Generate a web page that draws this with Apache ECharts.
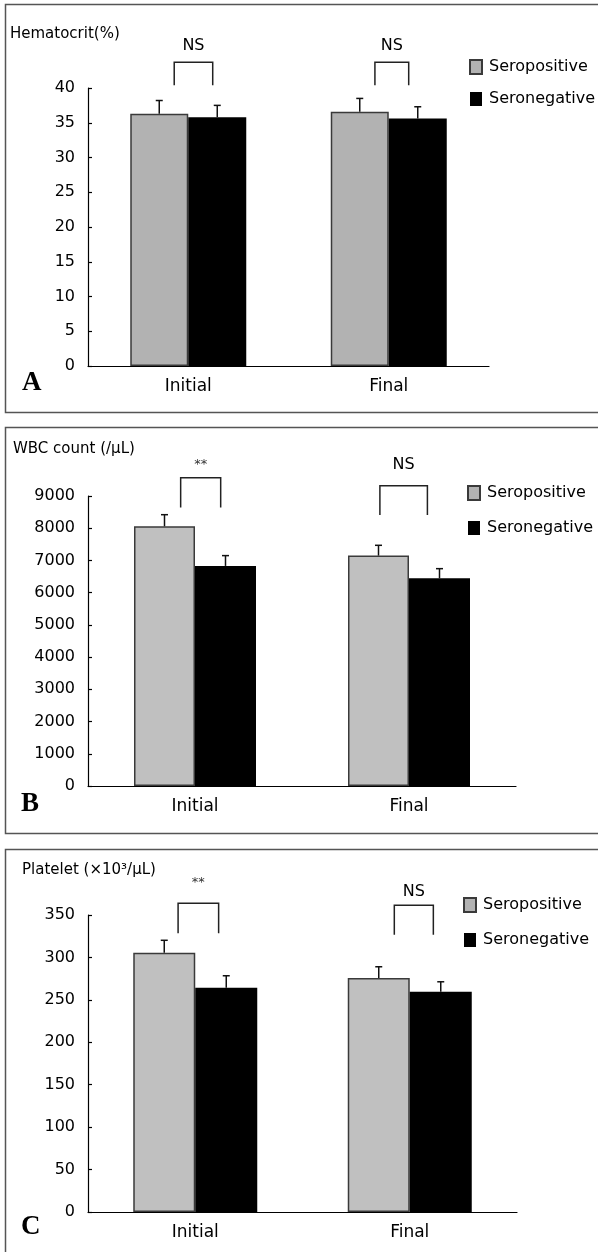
<!DOCTYPE html>
<html><head><meta charset="utf-8">
<script src="https://cdn.jsdelivr.net/npm/echarts@6/dist/echarts.min.js"></script>
<style>html,body{margin:0;padding:0;background:#fff}#c{width:598px;height:1252px}</style>
</head><body><div id="c"></div><script>
// ---------- data ----------
const categories = ['Initial', 'Final'];
const groupNames = ['Seropositive', 'Seronegative'];

// Panel A: Hematocrit (%)
const hctTitle = 'Hematocrit(%)';
const hctAxis = [0, 40, 5];              // min, max, interval
const hctPos = [36.3, 36.6];
const hctPosErr = [1.9, 1.9];
const hctNeg = [35.8, 35.6];
const hctNegErr = [1.7, 1.7];
const hctSig = ['NS', 'NS'];
const hctBracketTop = [43.7, 43.7];
const hctBracketBottom = [40.4, 40.4];
const hctSigAt = [46.0, 46.0];

// Panel B: WBC count (/uL)
const wbcTitle = 'WBC count (/\u03BCL)';
const wbcAxis = [0, 9000, 1000];
const wbcPos = [8060, 7150];
const wbcPosErr = [360, 320];
const wbcNeg = [6830, 6445];
const wbcNegErr = [320, 300];
const wbcSig = ['**', 'NS'];
const wbcBracketTop = [9570, 9320];
const wbcBracketBottom = [8640, 8410];
const wbcSigAt = [9960, 9960];

// Panel C: Platelet (x10^3/uL)
const pltTitle = 'Platelet (\u00D710\u00B3/\u03BCL)';
const pltAxis = [0, 350, 50];
const pltPos = [305.5, 275.7];
const pltPosErr = [14.7, 13.3];
const pltNeg = [264.2, 259.5];
const pltNegErr = [14.2, 11.8];
const pltSig = ['**', 'NS'];
const pltBracketTop = [363.8, 361.4];
const pltBracketBottom = [328.4, 326.8];
const pltSigAt = [388.1, 377.5];

// ---------- layout / style ----------
const FONT = 'DejaVu Sans';
const panels = [
  { key: 'A', title: hctTitle, axis: hctAxis, pos: hctPos, posErr: hctPosErr, neg: hctNeg, negErr: hctNegErr,
    sig: hctSig, bTop: hctBracketTop, bBot: hctBracketBottom, sigAt: hctSigAt,
    grid: { left: 88, top: 88, width: 401, height: 278 }, barWidth: 58, gray: '#b2b2b2',
    span: [[-0.070, 0.122], [-0.069, 0.0995]],
    legend: { left: 469, top: 59, gap: 16 }, titlePos: [10, 34], letterPos: [22, 397],
    frame: { y: 4.5, h: 408 } },
  { key: 'B', title: wbcTitle, axis: wbcAxis, pos: wbcPos, posErr: wbcPosErr, neg: wbcNeg, negErr: wbcNegErr,
    sig: wbcSig, bTop: wbcBracketTop, bBot: wbcBracketBottom, sigAt: wbcSigAt,
    grid: { left: 88, top: 496, width: 428, height: 290 }, barWidth: 61, gray: '#c0c0c0',
    span: [[-0.067, 0.120], [-0.136, 0.086]],
    legend: { left: 467, top: 485, gap: 19 }, titlePos: [13, 449], letterPos: [21, 818],
    frame: { y: 427.5, h: 406 } },
  { key: 'C', title: pltTitle, axis: pltAxis, pos: pltPos, posErr: pltPosErr, neg: pltNeg, negErr: pltNegErr,
    sig: pltSig, bTop: pltBracketTop, bBot: pltBracketBottom, sigAt: pltSigAt,
    grid: { left: 88, top: 915, width: 429, height: 297 }, barWidth: 62, gray: '#c0c0c0',
    span: [[-0.080, 0.109], [-0.072, 0.110]],
    legend: { left: 463, top: 897, gap: 19 }, titlePos: [22, 870], letterPos: [21, 1241],
    frame: { y: 849.5, h: 420 } }
];

const grids = [], xAxes = [], yAxes = [], series = [], legends = [], graphics = [];

function errorSeries(gi, vals, errs, side, bw) {
  return {
    type: 'custom', xAxisIndex: gi, yAxisIndex: gi, z: 5, silent: true, clip: false,
    data: vals.map((v, i) => [i, v, v + errs[i]]),
    renderItem(params, api) {
      const c0 = api.coord([api.value(0), api.value(1)]);
      const c1 = api.coord([api.value(0), api.value(2)]);
      const x = c0[0] + side * bw / 2;
      const st = { stroke: '#111', lineWidth: 1.5 };
      return { type: 'group', children: [
        { type: 'line', shape: { x1: x, y1: c0[1], x2: x, y2: c1[1] }, style: st },
        { type: 'line', shape: { x1: x - 3.5, y1: c1[1], x2: x + 3.5, y2: c1[1] }, style: st }
      ] };
    }
  };
}

function bracketSeries(gi, p) {
  return {
    type: 'custom', xAxisIndex: gi, yAxisIndex: gi, z: 5, silent: true, clip: false,
    data: p.bTop.map((t, i) => [i, t, p.bBot[i], p.sigAt[i]]),
    renderItem(params, api) {
      const i = api.value(0);
      const top = api.coord([i, api.value(1)]);
      const bot = api.coord([i, api.value(2)]);
      const lab = api.coord([i, api.value(3)]);
      const band = api.size([1, 0])[0];
      const xl = top[0] + p.span[i][0] * band, xr = top[0] + p.span[i][1] * band;
      const txt = p.sig[i];
      const star = txt === '**';
      return { type: 'group', children: [
        { type: 'polyline', shape: { points: [[xl, bot[1]], [xl, top[1]], [xr, top[1]], [xr, bot[1]]] },
          style: { stroke: '#222', lineWidth: 1.5, fill: null } },
        { type: 'text', x: (xl + xr) / 2, y: lab[1],
          style: { text: txt, fill: star ? '#333' : '#000', font: (star ? '13px ' : '16px ') + FONT,
                   align: 'center', verticalAlign: 'middle' } }
      ] };
    }
  };
}

panels.forEach((p, gi) => {
  grids.push(Object.assign({ containLabel: false }, p.grid));
  xAxes.push({
    type: 'category', gridIndex: gi, data: categories, boundaryGap: true,
    axisLine: { lineStyle: { color: '#000', width: 1.2 } },
    axisTick: { inside: true, length: 7, lineStyle: { color: '#000', width: 1.2 } },
    axisLabel: { color: '#000', fontFamily: FONT, fontSize: 17, margin: 12 },
    splitLine: { show: false }
  });
  yAxes.push({
    type: 'value', gridIndex: gi, min: p.axis[0], max: p.axis[1], interval: p.axis[2],
    axisLine: { show: true, lineStyle: { color: '#000', width: 1.2 } },
    axisTick: { show: true, inside: true, length: 4, lineStyle: { color: '#000', width: 1.2 } },
    axisLabel: { color: '#000', fontFamily: FONT, fontSize: 16, margin: 13, formatter: v => String(v) },
    splitLine: { show: false }
  });
  series.push({
    name: groupNames[0], type: 'bar', xAxisIndex: gi, yAxisIndex: gi, data: p.pos,
    barWidth: p.barWidth, barGap: '0%', silent: true,
    itemStyle: { color: p.gray, borderColor: '#3a3a3a', borderWidth: 1.5 }
  });
  series.push({
    name: groupNames[1], type: 'bar', xAxisIndex: gi, yAxisIndex: gi, data: p.neg,
    barWidth: p.barWidth, barGap: '0%', silent: true,
    itemStyle: { color: '#000', borderColor: '#000', borderWidth: 0 }
  });
  series.push(errorSeries(gi, p.pos, p.posErr, -1, p.barWidth));
  series.push(errorSeries(gi, p.neg, p.negErr, 1, p.barWidth));
  series.push(bracketSeries(gi, p));
  legends.push({
    data: groupNames, orient: 'vertical', left: p.legend.left, top: p.legend.top, padding: 0,
    itemWidth: 12, itemHeight: 14, itemGap: p.legend.gap, icon: 'rect', selectedMode: false,
    textStyle: { color: '#000', fontFamily: FONT, fontSize: 16, padding: [0, 0, 0, 2] }
  });
  graphics.push({
    type: 'rect', shape: { x: 5.5, y: p.frame.y, width: 620, height: p.frame.h }, silent: true,
    style: { fill: null, stroke: '#555', lineWidth: 1.5 }
  });
  graphics.push({
    type: 'text', x: p.titlePos[0], y: p.titlePos[1], silent: true,
    style: { text: p.title, fill: '#000', font: '15px ' + FONT, verticalAlign: 'middle' }
  });
  graphics.push({
    type: 'text', x: p.letterPos[0], y: p.letterPos[1], silent: true,
    style: { text: p.key, fill: '#000', font: 'bold 27px "Liberation Serif"', verticalAlign: 'bottom' }
  });
});

const chart = echarts.init(document.getElementById('c'), null, { renderer: 'canvas' });
chart.setOption({
  backgroundColor: '#fff', animation: false,
  grid: grids, xAxis: xAxes, yAxis: yAxes, series: series, legend: legends, graphic: graphics
});
</script></body></html>
